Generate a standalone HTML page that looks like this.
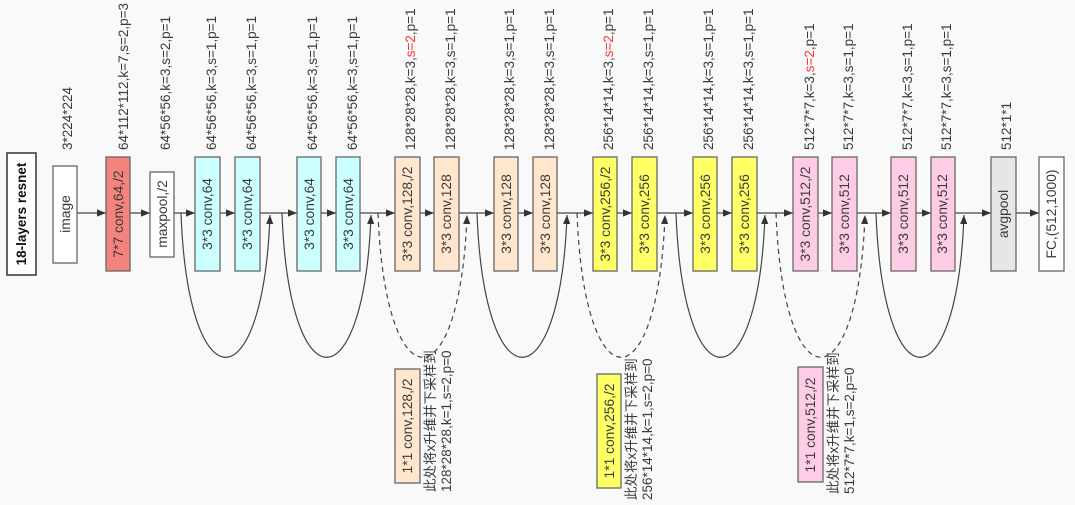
<!DOCTYPE html>
<html><head><meta charset="utf-8"><style>
html,body{margin:0;padding:0;background:#f9f9f9;}
svg{display:block;}
text{font-family:"Liberation Sans","Noto Sans CJK SC",sans-serif;fill:#3a3a3a;}
</style></head><body>
<svg width="1075" height="505" viewBox="0 0 1075 505" xmlns="http://www.w3.org/2000/svg">
<defs>
<marker id="a" viewBox="0 0 10 10" refX="10" refY="5" markerWidth="9" markerHeight="9" markerUnits="userSpaceOnUse" orient="auto"><path d="M0,1 L10,5 L0,9 Z" fill="#333"/></marker>
</defs>
<rect width="1075" height="505" fill="#f9f9f9"/>
<rect x="7" y="153" width="29" height="122" fill="#fff" stroke="#333" stroke-width="1.5"/>
<text transform="translate(26,214) rotate(-90)" text-anchor="middle" font-size="13.5" font-weight="bold" style="fill:#111">18-layers resnet</text>

<g stroke="#444" stroke-width="1.2" fill="none">
<line x1="77" y1="213" x2="106" y2="213" marker-end="url(#a)"/>
<line x1="130" y1="213" x2="150" y2="213" marker-end="url(#a)"/>
<line x1="174" y1="213" x2="195" y2="213" marker-end="url(#a)"/>
<line x1="220" y1="213" x2="235" y2="213" marker-end="url(#a)"/>
<line x1="260" y1="213" x2="297" y2="213" marker-end="url(#a)"/>
<line x1="321" y1="213" x2="336" y2="213" marker-end="url(#a)"/>
<line x1="360" y1="213" x2="395" y2="213" marker-end="url(#a)"/>
<line x1="420" y1="213" x2="434" y2="213" marker-end="url(#a)"/>
<line x1="459" y1="213" x2="494" y2="213" marker-end="url(#a)"/>
<line x1="518" y1="213" x2="533" y2="213" marker-end="url(#a)"/>
<line x1="557" y1="213" x2="593" y2="213" marker-end="url(#a)"/>
<line x1="617" y1="213" x2="632" y2="213" marker-end="url(#a)"/>
<line x1="657" y1="213" x2="693" y2="213" marker-end="url(#a)"/>
<line x1="717" y1="213" x2="732" y2="213" marker-end="url(#a)"/>
<line x1="757" y1="213" x2="793" y2="213" marker-end="url(#a)"/>
<line x1="818" y1="213" x2="832" y2="213" marker-end="url(#a)"/>
<line x1="857" y1="213" x2="891" y2="213" marker-end="url(#a)"/>
<line x1="916" y1="213" x2="931" y2="213" marker-end="url(#a)"/>
<line x1="955" y1="213" x2="991" y2="213" marker-end="url(#a)"/>
<line x1="1016" y1="213" x2="1039" y2="213" marker-end="url(#a)"/>
<path d="M181,213 C188,405 263,405 270,215" marker-end="url(#a)"/>
<path d="M282,213 C289,405 364,405 371,215" marker-end="url(#a)"/>
<path d="M378,213 C385,405 460,405 467,215" marker-end="url(#a)" stroke-dasharray="5,4"/>
<path d="M477,213 C484,405 560,405 567,215" marker-end="url(#a)"/>
<path d="M577,213 C584,405 658,405 665,215" marker-end="url(#a)" stroke-dasharray="5,4"/>
<path d="M676,213 C683,405 758,405 765,215" marker-end="url(#a)"/>
<path d="M776,213 C783,405 858,405 865,215" marker-end="url(#a)" stroke-dasharray="5,4"/>
<path d="M876,213 C883,405 957,405 964,215" marker-end="url(#a)"/>
</g>

<g stroke="#666" stroke-width="1.3">
<rect x="53" y="166" width="24" height="97" fill="#fff"/>
<rect x="106" y="157" width="24" height="114" fill="#f4837d"/>
<rect x="150" y="172" width="24" height="85" fill="#fff"/>
<rect x="195" y="157" width="25" height="114" fill="#ccffff"/>
<rect x="235" y="157" width="25" height="114" fill="#ccffff"/>
<rect x="297" y="157" width="24" height="114" fill="#ccffff"/>
<rect x="336" y="157" width="24" height="114" fill="#ccffff"/>
<rect x="395" y="157" width="25" height="114" fill="#ffe6cc"/>
<rect x="434" y="157" width="25" height="114" fill="#ffe6cc"/>
<rect x="494" y="157" width="24" height="114" fill="#ffe6cc"/>
<rect x="533" y="157" width="24" height="114" fill="#ffe6cc"/>
<rect x="593" y="157" width="24" height="114" fill="#ffff66"/>
<rect x="632" y="157" width="25" height="114" fill="#ffff66"/>
<rect x="693" y="157" width="24" height="114" fill="#ffff66"/>
<rect x="732" y="157" width="25" height="114" fill="#ffff66"/>
<rect x="793" y="157" width="25" height="114" fill="#ffcce6"/>
<rect x="832" y="157" width="25" height="114" fill="#ffcce6"/>
<rect x="891" y="157" width="25" height="114" fill="#ffcce6"/>
<rect x="931" y="157" width="24" height="114" fill="#ffcce6"/>
<rect x="991" y="157" width="25" height="114" fill="#e6e6e6"/>
<rect x="1039" y="157" width="25" height="114" fill="#fff"/>
<rect x="395" y="369" width="25" height="114" fill="#ffe6cc"/>
<rect x="597" y="374" width="24" height="114" fill="#ffff66"/>
<rect x="798" y="367" width="25" height="115" fill="#ffcce6"/>
</g>

<g font-size="13.8" text-anchor="middle">
<text transform="translate(70,214) rotate(-90)">image</text>
<text transform="translate(123,214) rotate(-90)">7*7 conv,64,/2</text>
<text transform="translate(167,214) rotate(-90)">maxpool,/2</text>
<text transform="translate(212,214) rotate(-90)">3*3 conv,64</text>
<text transform="translate(252,214) rotate(-90)">3*3 conv,64</text>
<text transform="translate(314,214) rotate(-90)">3*3 conv,64</text>
<text transform="translate(353,214) rotate(-90)">3*3 conv,64</text>
<text transform="translate(412,214) rotate(-90)">3*3 conv,128,/2</text>
<text transform="translate(451,214) rotate(-90)">3*3 conv,128</text>
<text transform="translate(511,214) rotate(-90)">3*3 conv,128</text>
<text transform="translate(550,214) rotate(-90)">3*3 conv,128</text>
<text transform="translate(610,214) rotate(-90)">3*3 conv,256,/2</text>
<text transform="translate(649,214) rotate(-90)">3*3 conv,256</text>
<text transform="translate(710,214) rotate(-90)">3*3 conv,256</text>
<text transform="translate(749,214) rotate(-90)">3*3 conv,256</text>
<text transform="translate(810,214) rotate(-90)">3*3 conv,512,/2</text>
<text transform="translate(849,214) rotate(-90)">3*3 conv,512</text>
<text transform="translate(908,214) rotate(-90)">3*3 conv,512</text>
<text transform="translate(947,214) rotate(-90)">3*3 conv,512</text>
<text transform="translate(1008,214) rotate(-90)">avgpool</text>
<text transform="translate(1056,214) rotate(-90)">FC,(512,1000)</text>
<text transform="translate(412,426) rotate(-90)">1*1 conv,128,/2</text>
<text transform="translate(614,431) rotate(-90)">1*1 conv,256,/2</text>
<text transform="translate(815,425) rotate(-90)">1*1 conv,512,/2</text>
</g>

<g font-size="13.5">
<text transform="translate(72,150) rotate(-90)">3*224*224</text>
<text transform="translate(128,150) rotate(-90)">64*112*112,k=7,s=2,p=3</text>
<text transform="translate(170,150) rotate(-90)">64*56*56,k=3,s=2,p=1</text>
<text transform="translate(216,150) rotate(-90)">64*56*56,k=3,s=1,p=1</text>
<text transform="translate(256,150) rotate(-90)">64*56*56,k=3,s=1,p=1</text>
<text transform="translate(317,150) rotate(-90)">64*56*56,k=3,s=1,p=1</text>
<text transform="translate(357,150) rotate(-90)">64*56*56,k=3,s=1,p=1</text>
<text transform="translate(415,150) rotate(-90)">128*28*28,k=3,<tspan style="fill:#f33">s=2</tspan>,p=1</text>
<text transform="translate(455,150) rotate(-90)">128*28*28,k=3,s=1,p=1</text>
<text transform="translate(514,150) rotate(-90)">128*28*28,k=3,s=1,p=1</text>
<text transform="translate(554,150) rotate(-90)">128*28*28,k=3,s=1,p=1</text>
<text transform="translate(613,150) rotate(-90)">256*14*14,k=3,<tspan style="fill:#f33">s=2</tspan>,p=1</text>
<text transform="translate(653,150) rotate(-90)">256*14*14,k=3,s=1,p=1</text>
<text transform="translate(713,150) rotate(-90)">256*14*14,k=3,s=1,p=1</text>
<text transform="translate(753,150) rotate(-90)">256*14*14,k=3,s=1,p=1</text>
<text transform="translate(814,150) rotate(-90)">512*7*7,k=3,<tspan style="fill:#f33">s=2</tspan>,p=1</text>
<text transform="translate(853,150) rotate(-90)">512*7*7,k=3,s=1,p=1</text>
<text transform="translate(912,150) rotate(-90)">512*7*7,k=3,s=1,p=1</text>
<text transform="translate(951,150) rotate(-90)">512*7*7,k=3,s=1,p=1</text>
<text transform="translate(1011,150) rotate(-90)">512*1*1</text>
<text transform="translate(435,492) rotate(-90)">此处将x升维并下采样到</text>
<text transform="translate(451,492) rotate(-90)">128*28*28,k=1,s=2,p=0</text>
<text transform="translate(636,500) rotate(-90)">此处将x升维并下采样到</text>
<text transform="translate(652,500) rotate(-90)">256*14*14,k=1,s=2,p=0</text>
<text transform="translate(838,494) rotate(-90)">此处将x升维并下采样到</text>
<text transform="translate(854,494) rotate(-90)">512*7*7,k=1,s=2,p=0</text>
</g>
</svg>
</body></html>
